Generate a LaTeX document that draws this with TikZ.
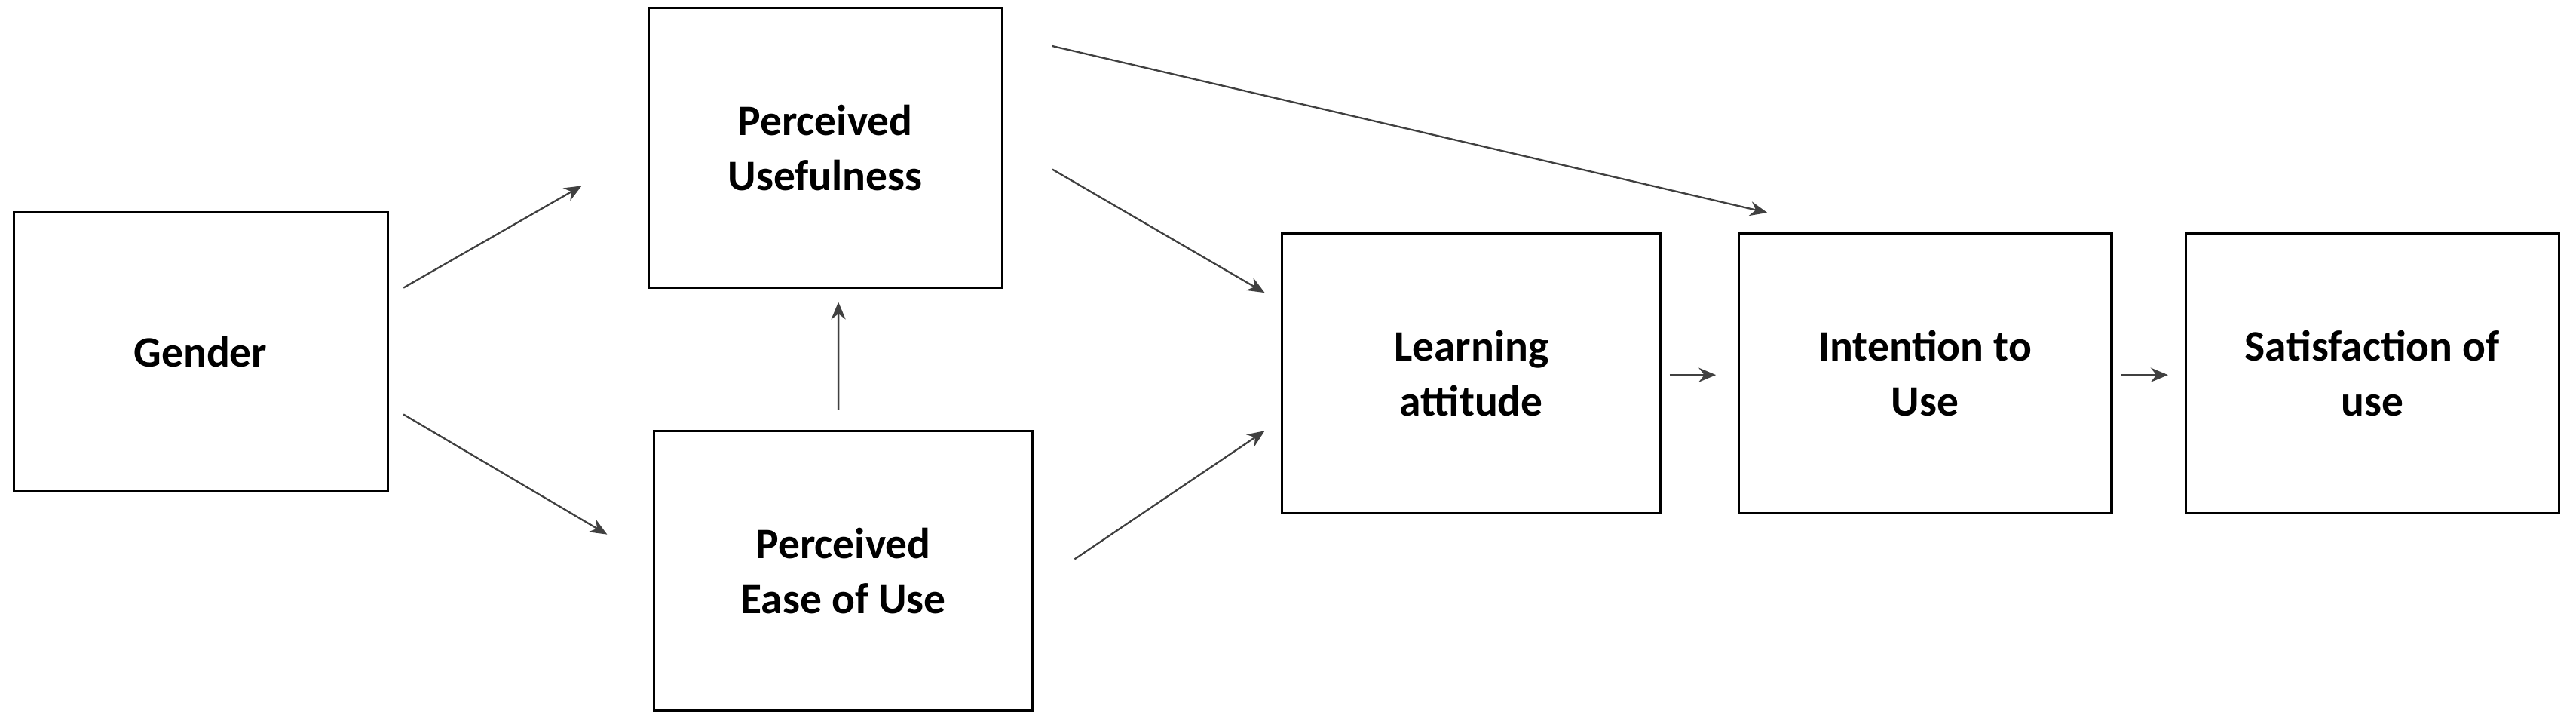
\documentclass[tikz,border=0pt]{standalone}
\usepackage{fontspec}
\setmainfont{Carlito}
\usetikzlibrary{positioning, arrows.meta}
\begin{document}
\begin{tikzpicture}[
    x=0.02cm, y=-0.02cm,
    font=\bfseries\fontsize{15}{19}\selectfont,
    % --- STYLES ---
    box/.style={draw, thick, align=center, minimum width=4.55cm, minimum height=3.4cm},
    link/.style={-{Stealth[length=6pt,width=5pt]}, black!75, semithick}
]
\useasboundingbox (0,0) rectangle (1567,438);

% --- BOXES ---
\node[box] (gender) at (122,214) {Gender};
\node[box, minimum width=4.3cm] (pu) at (502,90) {Perceived\\Usefulness};
\node[box, minimum width=4.6cm] (peou) at (513,347) {Perceived\\Ease of Use};
\node[box, minimum width=4.6cm] (la) at (895,227) {Learning\\attitude};
\node[box, minimum width=4.54cm] (iu) at (1171,227) {Intention to\\Use};
\node[box, minimum width=4.54cm] (su) at (1443,227) {Satisfaction of\\use};

% --- ARROWS ---
\draw[link] ([xshift=0.18cm,yshift=0.78cm]gender.east) -- ([xshift=-0.8cm,yshift=-0.46cm]pu.west);
\draw[link] ([xshift=0.18cm,yshift=-0.76cm]gender.east) -- ([xshift=-0.56cm,yshift=0.44cm]peou.west);
\draw[link] ([xshift=-0.06cm,yshift=0.24cm]peou.north) -- ([xshift=0.16cm,yshift=-0.16cm]pu.south);
\draw[link] ([xshift=0.6cm,yshift=-0.26cm]pu.east) -- ([xshift=-0.2cm,yshift=0.98cm]la.west);
\draw[link] ([xshift=0.5cm,yshift=0.14cm]peou.east) -- ([xshift=-0.2cm,yshift=-0.7cm]la.west);
\draw[link] ([xshift=0.6cm,yshift=1.24cm]pu.east) -- ([xshift=-1.92cm,yshift=0.24cm]iu.north);
\draw[link] ([xshift=0.1cm,yshift=-0.02cm]la.east) -- ([xshift=-0.26cm,yshift=-0.02cm]iu.west);
\draw[link] ([xshift=0.1cm,yshift=-0.02cm]iu.east) -- ([xshift=-0.2cm,yshift=-0.02cm]su.west);
\end{tikzpicture}
\end{document}
